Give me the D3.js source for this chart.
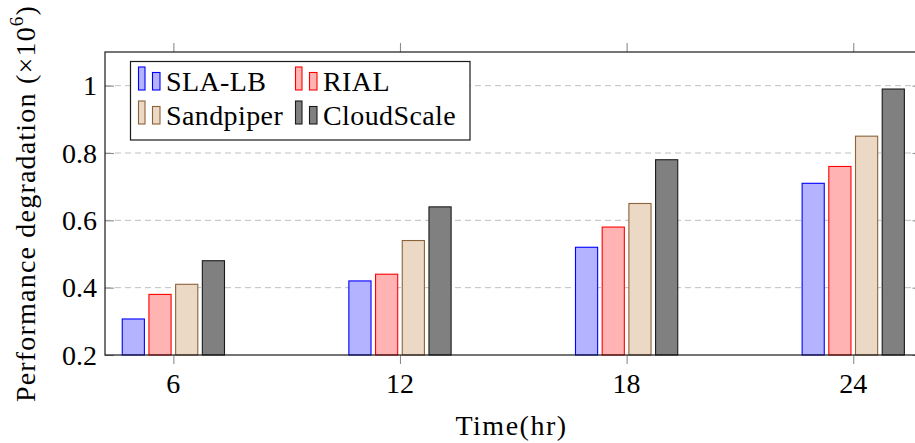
<!DOCTYPE html>
<html>
<head>
<meta charset="utf-8">
<script src="https://cdn.jsdelivr.net/npm/d3@7"></script>
<style>
  body { margin: 0; background: #fff; }
</style>
</head>
<body>
<div id="chart"></div>
<script>
/* Chart data */
const hours = [6, 12, 18, 24];
const series = ["SLA-LB", "RIAL", "Sandpiper", "CloudScale"];
const slaLb = [0.307, 0.42, 0.52, 0.71];
const rial = [0.38, 0.44, 0.58, 0.76];
const sandpiper = [0.41, 0.54, 0.65, 0.85];
const cloudScale = [0.48, 0.64, 0.78, 0.99];
const yTicks = [0.2, 0.4, 0.6, 0.8, 1];
const yTickLabels = ["0.2", "0.4", "0.6", "0.8", "1"];
const xTickLabels = ["6", "12", "18", "24"];

const fills = ["#b3b3ff", "#ffb3b3", "#ebd9c6", "#808080"];
const strokes = ["#0000ff", "#ff0000", "#8c6239", "#1a1a1a"];

// long table for the bars
const values = [slaLb, rial, sandpiper, cloudScale];
const data = [];
series.forEach((s, i) => {
  hours.forEach((h, j) => data.push({series: s, hour: h, value: values[i][j]}));
});

const width = 915, height = 443;
const margins = {top: 52, right: -6.6, bottom: 88, left: 105};
const serif = "'Liberation Serif', 'Times New Roman', Times, 'DejaVu Serif', serif";

const svg = d3.select("#chart")
  .append("svg")
  .attr("width", width)
  .attr("height", height)
  .attr("font-family", serif);

/* Scales */
const xScale = d3.scaleLinear()
  .domain([4.19, 25.81])
  .range([margins.left, width - margins.right]);

const yScale = d3.scaleLinear()
  .domain([0.2, 1.1])
  .range([height - margins.bottom, margins.top]);

// position of each series inside a group
const inner = d3.scaleBand()
  .domain(series)
  .range([-53.4, 53.4])
  .paddingInner(0.17)
  .paddingOuter(0.085);

const colors = d3.scaleOrdinal().domain(series).range(fills);
const lineColors = d3.scaleOrdinal().domain(series).range(strokes);

const x0 = margins.left, x1 = width - margins.right;
const y0 = height - margins.bottom, y1 = margins.top;

/* Dashed grid */
svg.append("g")
  .selectAll("line")
  .data(yTicks.filter(d => d > 0.2))
  .join("line")
    .attr("x1", x0)
    .attr("x2", x1)
    .attr("y1", d => yScale(d))
    .attr("y2", d => yScale(d))
    .attr("stroke", "#bfbfbf")
    .attr("stroke-width", 1)
    .attr("stroke-dasharray", "6,4");

/* Bars */
svg.append("g")
  .selectAll("rect")
  .data(data)
  .join("rect")
    .attr("x", d => xScale(d.hour) + inner(d.series))
    .attr("y", d => yScale(d.value))
    .attr("width", inner.bandwidth())
    .attr("height", d => yScale(0.2) - yScale(d.value))
    .attr("fill", d => colors(d.series))
    .attr("stroke", d => lineColors(d.series))
    .attr("stroke-width", 1.1);

/* Axes: tick marks from d3-axis, labels added separately */
const tickStyle = g => {
  g.select(".domain").remove();
  g.selectAll(".tick line").attr("stroke", "#8c8c8c").attr("stroke-width", 1.1);
  g.selectAll(".tick text").remove();
};

svg.append("g")
  .attr("transform", `translate(0,${y0})`)
  .call(d3.axisBottom(xScale).tickValues(hours).tickSize(9))
  .call(tickStyle);

svg.append("g")
  .attr("transform", `translate(0,${y1})`)
  .call(d3.axisTop(xScale).tickValues(hours).tickSize(9))
  .call(tickStyle);

svg.append("g")
  .attr("transform", `translate(${x0},0)`)
  .call(d3.axisRight(yScale).tickValues(yTicks).tickSize(9))
  .call(tickStyle);

svg.append("g")
  .attr("transform", `translate(${x1},0)`)
  .call(d3.axisLeft(yScale).tickValues(yTicks).tickSize(9))
  .call(tickStyle);

// frame
svg.append("rect")
  .attr("x", x0)
  .attr("y", y1)
  .attr("width", x1 - x0)
  .attr("height", y0 - y1)
  .attr("fill", "none")
  .attr("stroke", "#1a1a1a")
  .attr("stroke-width", 1.2);

/* Tick labels */
svg.append("g")
  .selectAll("text")
  .data(hours)
  .join("text")
    .attr("x", d => xScale(d))
    .attr("y", y0 + 38)
    .attr("text-anchor", "middle")
    .attr("font-size", 28)
    .text((d, i) => xTickLabels[i]);

svg.append("g")
  .selectAll("text")
  .data(yTicks)
  .join("text")
    .attr("x", x0 - 8)
    .attr("y", d => yScale(d) + 9.5)
    .attr("text-anchor", "end")
    .attr("font-size", 28)
    .text((d, i) => yTickLabels[i]);

/* Axis titles */
svg.append("text")
  .attr("x", (x0 + 920) / 2 - 1)
  .attr("y", 435)
  .attr("text-anchor", "middle")
  .attr("font-size", 28)
  .attr("letter-spacing", 1.5)
  .text("Time(hr)");

const yLabel = svg.append("text")
  .attr("transform", `translate(35,${(y0 + y1) / 2}) rotate(-90)`)
  .attr("text-anchor", "middle")
  .attr("font-size", 28)
  .attr("letter-spacing", 1.2);
yLabel.append("tspan").text("Performance degradation (×10");
yLabel.append("tspan")
  .attr("dy", -12)
  .attr("font-size", 19)
  .text("6");
yLabel.append("tspan")
  .attr("dy", 12)
  .text(")");

/* Legend */
const legend = svg.append("g");
legend.append("rect")
  .attr("x", 130.5)
  .attr("y", 61.5)
  .attr("width", 339.5)
  .attr("height", 78.5)
  .attr("fill", "#fff")
  .attr("stroke", "#1a1a1a")
  .attr("stroke-width", 1.2);

const legendCols = [138.5, 295.5];
const legendRows = [90, 124];

const item = legend.selectAll("g.item")
  .data(series)
  .join("g")
    .attr("class", "item")
    .attr("transform", (d, i) => `translate(${legendCols[i % 2]},${legendRows[Math.floor(i / 2)]})`);

item.append("rect")
  .attr("x", 0)
  .attr("y", -23)
  .attr("width", 6.5)
  .attr("height", 23)
  .attr("fill", d => colors(d))
  .attr("stroke", d => lineColors(d))
  .attr("stroke-width", 1.1);

item.append("rect")
  .attr("x", 14)
  .attr("y", -17.5)
  .attr("width", 7.5)
  .attr("height", 17.5)
  .attr("fill", d => colors(d))
  .attr("stroke", d => lineColors(d))
  .attr("stroke-width", 1.1);

item.append("text")
  .attr("x", 27.5)
  .attr("y", 1)
  .attr("font-size", 28)
  .attr("letter-spacing", 0.4)
  .text(d => d);
</script>
</body>
</html>
